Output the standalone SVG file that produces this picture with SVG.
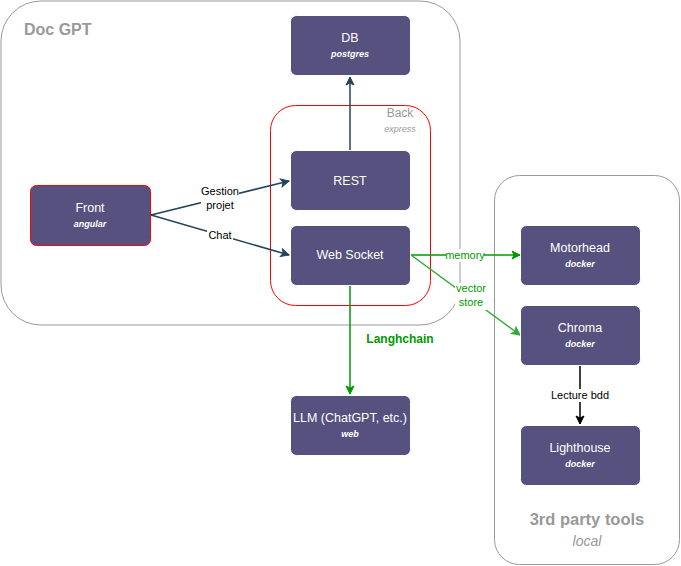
<svg xmlns="http://www.w3.org/2000/svg" width="681" height="566" viewBox="0 0 681 566">
<style>
text{font-family:"Liberation Sans",Arial,sans-serif}
.node{fill:#56517e;stroke:#ffffff;stroke-width:1}
.t{fill:#ffffff;font-size:12.5px;text-anchor:middle}
.s{fill:#ffffff;font-size:9px;font-weight:bold;font-style:italic;text-anchor:middle}
.grp{fill:none;stroke:#999999;stroke-width:1}
.lbl{font-size:11px;text-anchor:middle}
.e{fill:none;stroke-width:1.5}
</style>
<defs>
<marker id="aDark" markerWidth="10" markerHeight="10" refX="9" refY="5" orient="auto" markerUnits="userSpaceOnUse"><path d="M1,1 L9,5 L1,9 L3,5 Z" fill="#23445d" stroke="#23445d"/></marker>
<marker id="aGreen" markerWidth="10" markerHeight="10" refX="9" refY="5" orient="auto" markerUnits="userSpaceOnUse"><path d="M1,1 L9,5 L1,9 L3,5 Z" fill="#009900" stroke="#009900"/></marker>
<marker id="aGreen2" markerWidth="10" markerHeight="10" refX="9" refY="5" orient="auto" markerUnits="userSpaceOnUse"><path d="M1,1 L9,5 L1,9 L3,5 Z" fill="#33a833" stroke="#33a833"/></marker>
<marker id="aBlack" markerWidth="10" markerHeight="10" refX="9" refY="5" orient="auto" markerUnits="userSpaceOnUse"><path d="M1,1 L9,5 L1,9 L3,5 Z" fill="#000" stroke="#000"/></marker>
</defs>
<rect width="681" height="566" fill="#ffffff"/>

<g id="docgpt">
<rect class="grp" x="1" y="1" width="459" height="324" rx="40"/>
<text x="24" y="35" font-size="16" font-weight="bold" fill="#999999">Doc GPT</text>
</g>
<g id="back">
<rect x="270.5" y="105.5" width="160" height="200" rx="25" fill="none" stroke="#ff0000"/>
<text x="400" y="117" font-size="12" fill="#999999" text-anchor="middle">Back</text>
<text x="400" y="132" font-size="9" font-style="italic" fill="#999999" text-anchor="middle">express</text>
</g>
<g id="thirdparty">
<rect class="grp" x="494.5" y="175.5" width="185" height="389" rx="25"/>
<text x="587" y="525" font-size="16.5" font-weight="bold" fill="#999999" text-anchor="middle">3rd party tools</text>
<text x="587" y="546" font-size="14" font-style="italic" fill="#999999" text-anchor="middle">local</text>
</g>

<g id="connectors">
<path class="e" d="M350,150 L350,77" stroke="#23445d" marker-end="url(#aDark)"/>
<path class="e" d="M151,215 L289,181" stroke="#23445d" marker-end="url(#aDark)"/>
<path class="e" d="M151,215 L289,255" stroke="#23445d" marker-end="url(#aDark)"/>
<path class="e" d="M411,255 L520,255" stroke="#009900" marker-end="url(#aGreen)"/>
<path class="e" d="M411,255 L520,335" stroke="#33a833" marker-end="url(#aGreen2)"/>
<path class="e" d="M350,286 L350,394" stroke="#009900" marker-end="url(#aGreen)"/>
<path class="e" d="M580,366 L580,424" stroke="#000000" marker-end="url(#aBlack)"/>
<rect x="201" y="183" width="38" height="28" fill="#ffffff"/>
<text class="lbl" x="220" y="195">Gestion</text>
<text class="lbl" x="220" y="209">projet</text>
<rect x="207" y="229" width="26" height="13" fill="#ffffff"/>
<text class="lbl" x="220" y="239">Chat</text>
<rect x="446" y="249" width="38" height="13" fill="#ffffff"/>
<text class="lbl" x="465" y="259" fill="#009900">memory</text>
<rect x="455" y="283" width="32" height="27" fill="#ffffff"/>
<text class="lbl" x="471" y="292" fill="#009900">vector</text>
<text class="lbl" x="471" y="306" fill="#009900">store</text>
<text x="400" y="343" font-size="12" font-weight="bold" fill="#009900" text-anchor="middle">Langhchain</text>
<rect x="551" y="389" width="58" height="13" fill="#ffffff"/>
<text class="lbl" x="580" y="399">Lecture bdd</text>
</g>

<g id="db">
<rect class="node" x="290.5" y="15.5" width="120" height="60" rx="6"/>
<text class="t" x="350" y="42">DB</text>
<text class="s" x="350" y="57">postgres</text>
</g>
<g id="rest">
<rect class="node" x="290.5" y="150.5" width="120" height="60" rx="6"/>
<text class="t" x="350" y="185">REST</text>
</g>
<g id="websocket">
<rect class="node" x="290.5" y="225.5" width="120" height="60" rx="6"/>
<text class="t" x="350" y="259">Web Socket</text>
</g>
<g id="front">
<rect x="30.5" y="185.5" width="120" height="60" rx="6" fill="#56517e" stroke="#ff0000"/>
<text class="t" x="90" y="212">Front</text>
<text class="s" x="90" y="227">angular</text>
</g>
<g id="llm">
<rect class="node" x="290.5" y="395.5" width="120" height="60" rx="6"/>
<text class="t" x="350" y="422">LLM (ChatGPT, etc.)</text>
<text class="s" x="350" y="437">web</text>
</g>
<g id="motorhead">
<rect class="node" x="520.5" y="225.5" width="120" height="60" rx="6"/>
<text class="t" x="580" y="252">Motorhead</text>
<text class="s" x="580" y="267">docker</text>
</g>
<g id="chroma">
<rect class="node" x="520.5" y="305.5" width="120" height="60" rx="6"/>
<text class="t" x="580" y="332">Chroma</text>
<text class="s" x="580" y="347">docker</text>
</g>
<g id="lighthouse">
<rect class="node" x="520.5" y="425.5" width="120" height="60" rx="6"/>
<text class="t" x="580" y="452">Lighthouse</text>
<text class="s" x="580" y="467">docker</text>
</g>
</svg>
